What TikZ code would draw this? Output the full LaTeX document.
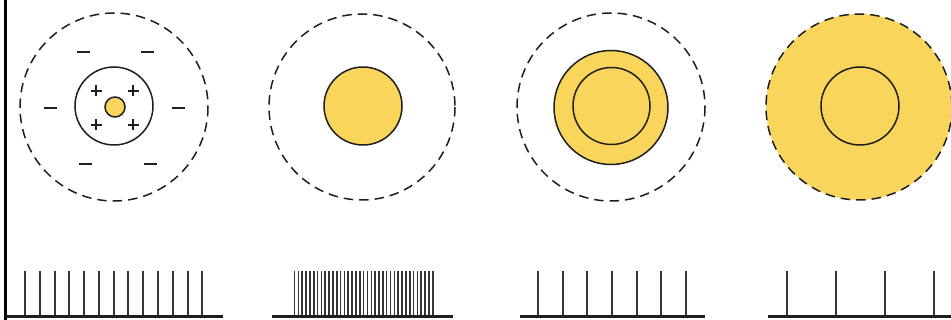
\documentclass[tikz,border=0pt]{standalone}
\definecolor{cyto}{RGB}{250,213,92}
\definecolor{ink}{RGB}{30,30,30}
\tikzset{
  dashring/.style={draw=ink, line width=1.5pt, dash pattern=on 9.5pt off 6pt},
  ring/.style={draw=ink, line width=1.5pt},
  spike/.style={draw=ink!90, line width=2pt},
  base/.style={draw=ink, line width=3pt},
  sign/.style={draw=ink, line width=1.7pt},
}
\begin{document}
\begin{tikzpicture}[x=1pt,y=-1pt]
\useasboundingbox (0,0) rectangle (951,320);
\clip (0,0) rectangle (951,320);
% left border
\draw[line width=3pt, black] (5,0) -- (5,320);
% panel 1
\draw[dashring] (114,107) circle (94);
\draw[ring] (114,106) circle (39);
\draw[ring, fill=cyto] (115,107) circle (10);
\foreach \p in {(96,91),(133,91),(96,125),(133,125)}{
  \draw[sign] \p ++(-5.5,0) -- ++(11,0);
  \draw[sign] \p ++(0,-5.5) -- ++(0,11);
}
\foreach \m in {(83,52),(147,52),(50,108),(178,108),(85,164),(150,164)}{
  \draw[sign, line width=2.3pt] \m ++(-6.5,0) -- ++(13,0);
}
% panel 2
\draw[dashring] (362,107) circle (93);
\draw[ring, fill=cyto] (363,106) circle (39);
% panel 3
\draw[dashring] (611,107) circle (94);
\draw[ring, fill=cyto] (611,107.5) circle (57);
\draw[ring] (611.5,106) circle (38.5);
% panel 4
\fill[cyto] (859,107) circle (93);
\draw[dashring] (859,107) circle (93);
\draw[ring] (860,106) circle (39);
% spike trains
\foreach \i in {0,...,12}{ \draw[spike] ({25+\i*14.78},271) -- ({25+\i*14.78},317); }
\draw[base] (6,317) -- (223,317);
\foreach \i in {0,...,36}{ \draw[spike, line width=1.6pt] ({294.5+\i*3.84},271) -- ({294.5+\i*3.84},317); }
\draw[base] (271.5,317) -- (453,317);
\foreach \i in {0,...,6}{ \draw[spike] ({538.3+\i*24.57},271) -- ({538.3+\i*24.57},317); }
\draw[base] (520,317) -- (705,317);
\foreach \i in {0,...,3}{ \draw[spike] ({786.7+\i*49.1},271) -- ({786.7+\i*49.1},317); }
\draw[base] (768,317) -- (951,317);
\end{tikzpicture}
\end{document}
